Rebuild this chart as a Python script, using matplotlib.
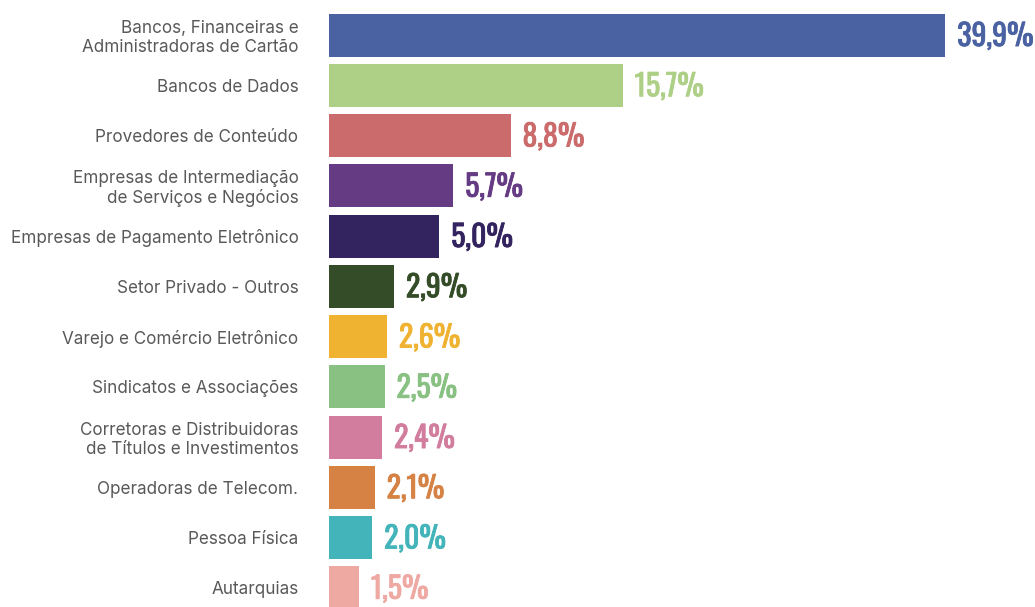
import matplotlib
matplotlib.use("Agg")
import matplotlib.pyplot as plt
import matplotlib.patheffects as pe
import numpy as np

# categories, top to bottom
categorias = [
    "Bancos, Financeiras e\nAdministradoras de Cartão",
    "Bancos de Dados",
    "Provedores de Conteúdo",
    "Empresas de Intermediação\nde Serviços e Negócios",
    "Empresas de Pagamento Eletrônico",
    "Setor Privado - Outros",
    "Varejo e Comércio Eletrônico",
    "Sindicatos e Associações",
    "Corretoras e Distribuidoras\nde Títulos e Investimentos",
    "Operadoras de Telecom.",
    "Pessoa Física",
    "Autarquias",
]
percentuais = [39.9, 15.7, 8.8, 5.7, 5.0, 2.9, 2.6, 2.5, 2.4, 2.1, 2.0, 1.5]
cores = [
    "#4A62A2", "#AED086", "#CB6B6B", "#653B84", "#33235E", "#344C27",
    "#EFB331", "#88C182", "#D27D9D", "#D58244", "#43B5BA", "#EFA9A3",
]

fig = plt.figure(figsize=(10.35, 6.07), dpi=100)
ax = fig.add_axes([0.3179, -0.0099, 0.6821, 0.9934])

# compressed (power) x scale so the small shares stay readable
p = 0.75
ax.set_xscale("function", functions=(lambda v: np.sign(v) * np.abs(v) ** p,
                                     lambda u: np.sign(u) * np.abs(u) ** (1 / p)))

y = np.arange(len(categorias))
ax.barh(y, percentuais, color=cores, height=0.855, left=0)
ax.set_xlim(0.518, 47.5)
ax.set_ylim(len(categorias) - 0.5, -0.5)

for yi, v, c in zip(y, percentuais, cores):
    ax.annotate(f"{v:.1f}%".replace(".", ","), xy=(v, yi), xytext=(8.5, -1),
                textcoords="offset points", va="center", ha="left",
                color=c, fontsize=21.5, family=["Oswald", "DejaVu Sans"],
                path_effects=[pe.withStroke(linewidth=0.6, foreground=c)])

ax.set_yticks(y)
ax.set_yticklabels(categorias, fontsize=12.3, color="#595959",
                   family=["Inter", "DejaVu Sans"], ha="right",
                   multialignment="right", linespacing=1.15)
ax.tick_params(axis="y", length=0, pad=22)
ax.tick_params(axis="x", length=0, labelbottom=False)
for s in ax.spines.values():
    s.set_visible(False)

fig.savefig("out.png", dpi=100)
